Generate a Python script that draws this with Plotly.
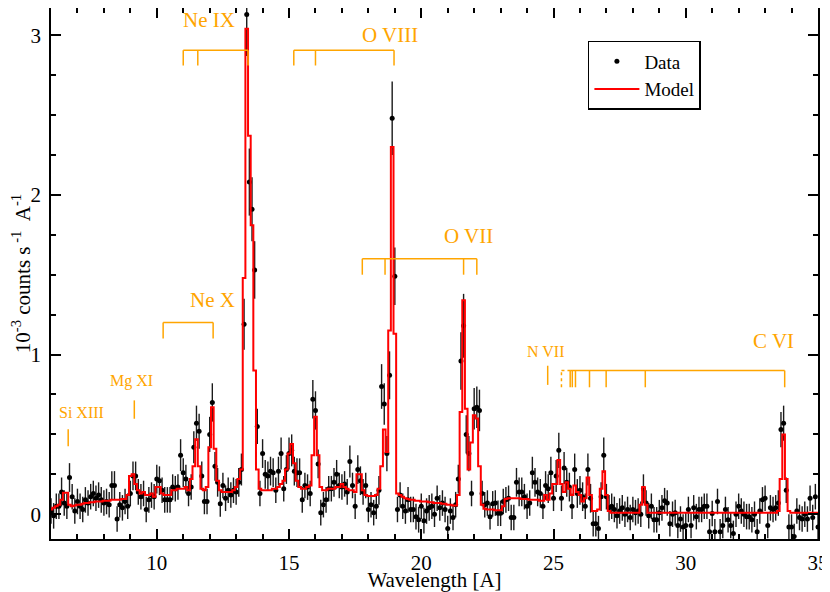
import plotly.graph_objects as go

# Spectrum, bins of 0.1 A (bin centres)
wave = [
    6.0, 6.1, 6.2, 6.3, 6.4, 6.5, 6.6, 6.7, 6.8, 6.9,
    7.0, 7.1, 7.2, 7.3, 7.4, 7.5, 7.6, 7.7, 7.8, 7.9,
    8.0, 8.1, 8.2, 8.3, 8.4, 8.5, 8.6, 8.7, 8.8, 8.9,
    9.0, 9.1, 9.2, 9.3, 9.4, 9.5, 9.6, 9.7, 9.8, 9.9,
    10.0, 10.1, 10.2, 10.3, 10.4, 10.5, 10.6, 10.7, 10.8, 10.9,
    11.0, 11.1, 11.2, 11.3, 11.4, 11.5, 11.6, 11.7, 11.8, 11.9,
    12.0, 12.1, 12.2, 12.3, 12.4, 12.5, 12.6, 12.7, 12.8, 12.9,
    13.0, 13.1, 13.2, 13.3, 13.4, 13.5, 13.6, 13.7, 13.8, 13.9,
    14.0, 14.1, 14.2, 14.3, 14.4, 14.5, 14.6, 14.7, 14.8, 14.9,
    15.0, 15.1, 15.2, 15.3, 15.4, 15.5, 15.6, 15.7, 15.8, 15.9,
    16.0, 16.1, 16.2, 16.3, 16.4, 16.5, 16.6, 16.7, 16.8, 16.9,
    17.0, 17.1, 17.2, 17.3, 17.4, 17.5, 17.6, 17.7, 17.8, 17.9,
    18.0, 18.1, 18.2, 18.3, 18.4, 18.5, 18.6, 18.7, 18.8, 18.9,
    19.0, 19.1, 19.2, 19.3, 19.4, 19.5, 19.6, 19.7, 19.8, 19.9,
    20.0, 20.1, 20.2, 20.3, 20.4, 20.5, 20.6, 20.7, 20.8, 20.9,
    21.0, 21.1, 21.2, 21.3, 21.4, 21.5, 21.6, 21.7, 21.8, 21.9,
    22.0, 22.1, 22.2, 22.3, 22.4, 22.5, 22.6, 22.7, 22.8, 22.9,
    23.0, 23.1, 23.2, 23.3, 23.4, 23.5, 23.6, 23.7, 23.8, 23.9,
    24.0, 24.1, 24.2, 24.3, 24.4, 24.5, 24.6, 24.7, 24.8, 24.9,
    25.0, 25.1, 25.2, 25.3, 25.4, 25.5, 25.6, 25.7, 25.8, 25.9,
    26.0, 26.1, 26.2, 26.3, 26.4, 26.5, 26.6, 26.7, 26.8, 26.9,
    27.0, 27.1, 27.2, 27.3, 27.4, 27.5, 27.6, 27.7, 27.8, 27.9,
    28.0, 28.1, 28.2, 28.3, 28.4, 28.5, 28.6, 28.7, 28.8, 28.9,
    29.0, 29.1, 29.2, 29.3, 29.4, 29.5, 29.6, 29.7, 29.8, 29.9,
    30.0, 30.1, 30.2, 30.3, 30.4, 30.5, 30.6, 30.7, 30.8, 30.9,
    31.0, 31.1, 31.2, 31.3, 31.4, 31.5, 31.6, 31.7, 31.8, 31.9,
    32.0, 32.1, 32.2, 32.3, 32.4, 32.5, 32.6, 32.7, 32.8, 32.9,
    33.0, 33.1, 33.2, 33.3, 33.4, 33.5, 33.6, 33.7, 33.8, 33.9,
    34.0, 34.1, 34.2, 34.3, 34.4, 34.5, 34.6, 34.7, 34.8, 34.9,
    35.0,
]

# measured rate, 1e-3 counts/s/A
rate = [
    0.02, -0.01, 0.05, 0.05, 0.14, 0.07, 0.05, 0.23, 0.11, 0.02,
    0.08, 0.05, 0.03, 0.09, 0.07, 0.11, 0.13, 0.10, 0.12, 0.09,
    0.07, 0.08, 0.06, 0.18, 0.18, -0.03, 0.06, 0.04, 0.08, 0.05,
    0.13, 0.24, 0.24, 0.14, 0.11, 0.13, 0.03, 0.09, 0.12, 0.11,
    0.22, 0.21, 0.15, 0.09, 0.09, 0.09, 0.17, 0.16, 0.17, 0.37,
    0.26, 0.22, 0.13, 0.17, 0.42, 0.57, 0.52, 0.24, 0.08, 0.08,
    0.50, 0.70, 0.30, 0.20, 0.065, 0.18, 0.10, 0.15, 0.12, 0.15,
    0.14, 0.20, 0.28, 1.19, 3.13, 2.08, 1.91, 1.53, 0.55, 0.13,
    0.38, 0.25, 0.24, 0.27, 0.26, 0.15, 0.27, 0.38, 0.16, 0.28,
    0.38, 0.40, 0.27, 0.26, 0.26, 0.09, 0.18, 0.17, 0.13, 0.72,
    0.65, 0.315, 0.01, 0.06, 0.09, 0.16, 0.16, 0.20, 0.25, 0.18,
    0.17, 0.19, 0.14, 0.33, 0.18, 0.05, 0.28, 0.21, 0.14, 0.18,
    0.03, 0.06, 0.01, 0.05, 0.15, 0.80, 0.69, 0.38, 0.87, 2.48,
    1.49, 0.03, 0.12, 0.05, 0.02, 0.09, 0.03, 0.03, -0.015, -0.035,
    0.05, -0.04, 0.02, 0.04, 0.05, 0.0, 0.10, 0.04, 0.07, 0.03,
    -0.09, 0.02, -0.02, 0.06, 0.22, 0.96, 1.18, 0.50, 0.38, 0.13,
    0.66, 0.67, 0.65, 0.13, 0.06, 0.07, -0.015, 0.065, 0.07, 0.006,
    0.006, 0.08, 0.09, 0.10, -0.02, -0.02, 0.20, 0.14, 0.14, 0.11,
    0.05, 0.07, 0.26, 0.20, 0.14, 0.13, 0.05, 0.18, 0.16, 0.26,
    0.10, 0.24, 0.40, 0.10, 0.29, 0.20, 0.17, 0.05, 0.28, 0.13,
    0.15, 0.11, 0.05, 0.28, 0.10, -0.06, -0.06, -0.09, 0.11, 0.37,
    0.11, 0.04, 0.05, 0.03, -0.01, 0.02, 0.04, 0.0, 0.03, -0.02,
    0.03, 0.01, 0.02, 0.0, 0.16, 0.07, -0.01, 0.05, -0.035, -0.035,
    0.01, 0.04, 0.085, 0.07, -0.06, 0.0, 0.01, -0.07, -0.03, -0.08,
    -0.07, 0.03, -0.07, 0.04, -0.015, 0.03, 0.03, 0.05, 0.05, -0.11,
    0.005, -0.11, 0.08, -0.11, -0.07, 0.03, -0.035, -0.07, -0.12, 0.0,
    0.05, 0.02, 0.0, -0.015, -0.015, -0.035, 0.0, -0.11, 0.02, 0.09,
    0.10, -0.07, 0.04, 0.03, 0.04, 0.07, 0.53, 0.57, 0.15, -0.08,
    -0.08, -0.14, 0.02, -0.02, -0.03, 0.0, -0.03, 0.10, -0.02, 0.11,
    -0.08,
]

rate_err = [
    0.08, 0.08, 0.08, 0.08, 0.09, 0.08, 0.08, 0.09, 0.08, 0.08,
    0.08, 0.08, 0.08, 0.08, 0.08, 0.08, 0.08, 0.08, 0.08, 0.08,
    0.08, 0.08, 0.08, 0.09, 0.09, 0.08, 0.08, 0.08, 0.08, 0.08,
    0.08, 0.09, 0.09, 0.08, 0.08, 0.08, 0.08, 0.08, 0.08, 0.08,
    0.09, 0.09, 0.08, 0.08, 0.08, 0.08, 0.08, 0.08, 0.08, 0.10,
    0.09, 0.09, 0.08, 0.08, 0.10, 0.11, 0.11, 0.09, 0.08, 0.08,
    0.11, 0.12, 0.09, 0.09, 0.08, 0.08, 0.08, 0.08, 0.08, 0.08,
    0.08, 0.09, 0.10, 0.16, 0.26, 0.21, 0.20, 0.18, 0.11, 0.08,
    0.09, 0.09, 0.09, 0.09, 0.09, 0.08, 0.09, 0.10, 0.08, 0.09,
    0.10, 0.10, 0.09, 0.09, 0.09, 0.08, 0.08, 0.08, 0.08, 0.12,
    0.12, 0.09, 0.08, 0.08, 0.08, 0.08, 0.08, 0.09, 0.09, 0.08,
    0.08, 0.08, 0.08, 0.10, 0.08, 0.08, 0.09, 0.09, 0.08, 0.08,
    0.08, 0.08, 0.08, 0.08, 0.09, 0.14, 0.13, 0.11, 0.15, 0.23,
    0.18, 0.08, 0.08, 0.08, 0.08, 0.08, 0.08, 0.08, 0.08, 0.08,
    0.08, 0.08, 0.08, 0.08, 0.08, 0.08, 0.08, 0.08, 0.08, 0.08,
    0.08, 0.08, 0.08, 0.08, 0.09, 0.18, 0.20, 0.12, 0.11, 0.08,
    0.13, 0.13, 0.13, 0.08, 0.08, 0.08, 0.08, 0.08, 0.08, 0.08,
    0.08, 0.08, 0.08, 0.08, 0.08, 0.08, 0.09, 0.09, 0.09, 0.08,
    0.08, 0.08, 0.10, 0.09, 0.09, 0.09, 0.08, 0.09, 0.09, 0.10,
    0.08, 0.10, 0.11, 0.08, 0.10, 0.09, 0.09, 0.08, 0.10, 0.09,
    0.09, 0.09, 0.08, 0.10, 0.09, 0.08, 0.08, 0.08, 0.09, 0.11,
    0.08, 0.08, 0.08, 0.08, 0.08, 0.08, 0.08, 0.08, 0.08, 0.08,
    0.08, 0.08, 0.08, 0.08, 0.09, 0.08, 0.08, 0.08, 0.08, 0.08,
    0.08, 0.08, 0.08, 0.08, 0.08, 0.08, 0.08, 0.08, 0.08, 0.08,
    0.08, 0.08, 0.08, 0.08, 0.08, 0.08, 0.08, 0.08, 0.08, 0.08,
    0.08, 0.08, 0.08, 0.08, 0.08, 0.08, 0.08, 0.08, 0.08, 0.08,
    0.08, 0.08, 0.08, 0.08, 0.08, 0.08, 0.08, 0.08, 0.08, 0.08,
    0.08, 0.08, 0.08, 0.08, 0.08, 0.08, 0.11, 0.11, 0.08, 0.08,
    0.08, 0.08, 0.08, 0.08, 0.08, 0.08, 0.08, 0.08, 0.08, 0.08,
    0.08,
]

# folded model, same bins
model = [
    0.03, 0.04, 0.05, 0.06, 0.09, 0.135, 0.135, 0.06, 0.05, 0.055,
    0.06, 0.06, 0.065, 0.07, 0.07, 0.075, 0.075, 0.08, 0.08, 0.08,
    0.085, 0.085, 0.085, 0.09, 0.09, 0.09, 0.09, 0.095, 0.095, 0.12,
    0.24, 0.25, 0.19, 0.15, 0.13, 0.14, 0.12, 0.12, 0.13, 0.11,
    0.17, 0.17, 0.13, 0.12, 0.12, 0.12, 0.15, 0.15, 0.16, 0.16,
    0.16, 0.17, 0.15, 0.22, 0.30, 0.47, 0.30, 0.16, 0.15, 0.17,
    0.42, 0.67, 0.41, 0.21, 0.15, 0.14, 0.14, 0.14, 0.14, 0.15,
    0.17, 0.22, 0.28, 1.48, 3.04, 2.37, 1.81, 0.90, 0.28, 0.16,
    0.15, 0.15, 0.15, 0.15, 0.16, 0.16, 0.17, 0.19, 0.21, 0.28,
    0.38, 0.44, 0.32, 0.21, 0.17, 0.16, 0.16, 0.17, 0.18, 0.37,
    0.61, 0.37, 0.17, 0.15, 0.15, 0.16, 0.16, 0.16, 0.17, 0.17,
    0.19, 0.17, 0.16, 0.15, 0.15, 0.14, 0.25, 0.25, 0.15, 0.12,
    0.115, 0.115, 0.115, 0.12, 0.16, 0.30, 0.53, 0.39, 1.15, 2.30,
    1.13, 0.13, 0.12, 0.11, 0.10, 0.095, 0.09, 0.09, 0.085, 0.085,
    0.08, 0.08, 0.08, 0.075, 0.075, 0.07, 0.07, 0.07, 0.065, 0.065,
    0.06, 0.06, 0.055, 0.055, 0.12, 0.64, 1.34, 0.66, 0.28, 0.45,
    0.62, 0.60, 0.30, 0.06, 0.035, 0.03, 0.03, 0.03, 0.025, 0.025,
    0.025, 0.05, 0.095, 0.10, 0.10, 0.10, 0.10, 0.10, 0.095, 0.095,
    0.095, 0.09, 0.09, 0.09, 0.09, 0.085, 0.085, 0.12, 0.09, 0.13,
    0.19, 0.19, 0.34, 0.19, 0.14, 0.20, 0.16, 0.12, 0.18, 0.14,
    0.12, 0.08, 0.10, 0.23, 0.12, 0.02, 0.02, 0.03, 0.16, 0.27,
    0.12, 0.02, 0.01, 0.01, 0.01, 0.01, 0.01, 0.01, 0.01, 0.01,
    0.01, 0.01, 0.01, 0.06, 0.17, 0.06, 0.01, 0.01, 0.01, 0.01,
    0.01, 0.01, 0.01, 0.01, 0.01, 0.01, 0.01, 0.01, 0.01, 0.01,
    0.01, 0.01, 0.01, 0.01, 0.01, 0.01, 0.01, 0.01, 0.01, 0.01,
    0.01, 0.01, 0.01, 0.01, 0.01, 0.01, 0.01, 0.01, 0.01, 0.01,
    0.01, 0.01, 0.01, 0.01, 0.01, 0.01, 0.01, 0.01, 0.01, 0.01,
    0.01, 0.01, 0.01, 0.01, 0.01, 0.02, 0.22, 0.50, 0.22, 0.02,
    0.01, 0.01, 0.01, 0.01, 0.01, 0.01, 0.01, 0.01, 0.01, 0.01,
    0.01,
]

# line identifications (wavelengths in A)
ion_names = ["Ne IX", "O VIII", "O VII", "Ne X", "C VI"]
ion_lines = [
    [11.00, 11.55, 13.45],
    [15.18, 16.00, 18.97],
    [17.77, 18.63, 21.60, 22.10],
    [10.24, 12.13],
    [25.63, 25.71, 25.83, 26.36, 26.99, 28.47, 33.74],
]
single_names = ["Si XIII", "Mg XI", "N VII"]
single_lines = [6.65, 9.15, 24.78]
cvi_edge = 25.30

# where the brackets and labels sit (data units)
bar_top = [2.905, 2.905, 1.60, 1.20, 0.90]
bar_low = [2.81, 2.81, 1.50, 1.10, 0.795]
label_xy = [(11.97, 3.095), (18.82, 3.00), (21.80, 1.742), (12.09, 1.341), (33.30, 1.087)]
single_y = [(0.425, 0.533), (0.598, 0.713), (0.81, 0.93)]
single_label_xy = [(7.15, 0.636), (9.06, 0.835), (24.71, 1.018)]

orange = "#FFA500"
serif = "Liberation Serif, Times New Roman, DejaVu Serif, serif"

fig = go.Figure()
fig.add_trace(go.Scatter(
    x=wave, y=rate, mode="markers", name="Data",
    marker=dict(color="black", size=5),
    error_y=dict(type="data", array=rate_err, color="#1a1a1a", thickness=1.4, width=0),
))
fig.add_trace(go.Scatter(
    x=wave, y=model, mode="lines", name="Model",
    line=dict(color="red", width=2, shape="hvh"),
))

for name, lines, top, low, (lx, ly) in zip(ion_names, ion_lines, bar_top, bar_low, label_xy):
    fig.add_shape(type="line", x0=min(lines), x1=max(lines), y0=top, y1=top,
                  line=dict(color=orange, width=1.5))
    for w in lines:
        fig.add_shape(type="line", x0=w, x1=w, y0=low, y1=top, line=dict(color=orange, width=1.5))
    fig.add_annotation(x=lx, y=ly, text=name, showarrow=False,
                       font=dict(family=serif, size=21, color=orange))

# C VI series limit, dotted
fig.add_shape(type="line", x0=cvi_edge, x1=ion_lines[4][0], y0=bar_top[4], y1=bar_top[4],
              line=dict(color=orange, width=1.5, dash="dot"))
fig.add_shape(type="line", x0=cvi_edge, x1=cvi_edge, y0=bar_low[4], y1=bar_top[4],
              line=dict(color=orange, width=1.5, dash="dot"))

for name, w, (y0, y1), (lx, ly) in zip(single_names, single_lines, single_y, single_label_xy):
    fig.add_shape(type="line", x0=w, x1=w, y0=y0, y1=y1, line=dict(color=orange, width=1.5))
    fig.add_annotation(x=lx, y=ly, text=name, showarrow=False,
                       font=dict(family=serif, size=16, color=orange))

axis_style = dict(
    showline=True, linecolor="black", linewidth=1.5, mirror="ticks",
    ticks="inside", ticklen=10, tickwidth=1.5, tickcolor="black",
    showgrid=False, zeroline=False, automargin=False,
    tickfont=dict(family=serif, size=21, color="black"),
)

fig.update_xaxes(
    range=[6, 35], tick0=0, dtick=5,
    minor=dict(ticks="inside", ticklen=5, tickwidth=1.5, dtick=1, tickcolor="black"),
    ticklabelstandoff=4,
    title=dict(text="Wavelength [A]", font=dict(family=serif, size=21, color="black"), standoff=0),
    **axis_style,
)
fig.update_yaxes(
    range=[-0.155, 3.17], tick0=0, dtick=1,
    minor=dict(ticks="inside", ticklen=5, tickwidth=1.5, dtick=0.25, tickcolor="black"),
    ticklabelstandoff=4,
    title=dict(text="10<sup>-3</sup> counts s<sup> -1</sup>  A<sup>-1</sup>",
               font=dict(family=serif, size=21, color="black"), standoff=0),
    **axis_style,
)

# the page puts the figure 8 px in from the top-left corner
fig.update_layout(
    width=822, height=584,
    margin=dict(l=43, r=12, t=0, b=53, autoexpand=False),
    paper_bgcolor="white", plot_bgcolor="white",
    font=dict(family=serif, size=21, color="black"),
    showlegend=True,
    legend=dict(x=0.70, y=0.938, xanchor="left", yanchor="top",
                bgcolor="white", bordercolor="black", borderwidth=1.5,
                tracegroupgap=0, itemwidth=45,
                font=dict(family=serif, size=19)),
)

fig.write_html("out.html")
